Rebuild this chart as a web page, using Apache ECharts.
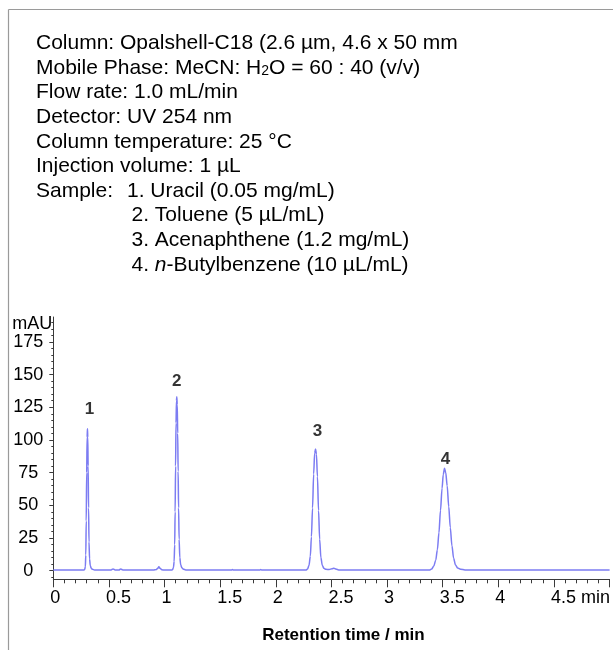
<!DOCTYPE html>
<html>
<head>
<meta charset="utf-8">
<script src="https://cdn.jsdelivr.net/npm/echarts@6/dist/echarts.min.js"></script>
<style>
html,body{margin:0;padding:0;background:#fff;}
#chart{width:613px;height:650px;}
</style>
</head>
<body>
<div id="chart"></div>
<script>
// ---- Data ----
const retentionTime = [
  0, 0.25, 0.275,
  0.282, 0.288, 0.292, 0.296, 0.300, 0.304, 0.307, 0.310, 0.313, 0.317, 0.321, 0.326, 0.332, 0.340, 0.352, 0.370,
  0.52, 0.537, 0.555, 0.59, 0.606, 0.625,
  0.90, 0.925, 0.938, 0.949, 0.960, 0.975, 1.0, 1.065,
  1.072, 1.080, 1.086, 1.091, 1.095, 1.099, 1.103, 1.107, 1.110, 1.114, 1.118, 1.122, 1.126, 1.131, 1.137, 1.145, 1.155, 1.170, 1.19, 1.22,
  1.60, 1.61, 1.62, 1.855, 1.865, 1.875,
  2.27,
  2.285, 2.298, 2.310, 2.320, 2.330, 2.340, 2.349, 2.357, 2.365, 2.374, 2.384, 2.394, 2.405, 2.418, 2.432, 2.450, 2.48, 2.505, 2.522, 2.54, 2.565, 2.6,
  3.38,
  3.40, 3.42, 3.437, 3.452, 3.466, 3.480, 3.494, 3.505, 3.516, 3.527, 3.540, 3.554, 3.568, 3.583, 3.598, 3.615, 3.635, 3.66, 3.70, 3.75,
  5.0
];
const signalMAU = [
  0.5, 0.5, 0.6,
  0.8, 3, 12, 38, 75, 102, 108.5, 102, 80, 48, 22, 9, 4, 2, 1, 0.6,
  0.6, 1.3, 0.6, 0.6, 1.2, 0.6,
  0.5, 0.8, 1.8, 3.0, 1.8, 0.7, 0.5, 0.5,
  0.8, 2.5, 7, 20, 45, 80, 113, 130, 133, 127, 105, 76, 48, 24, 10, 4.5, 2.2, 1.1, 0.6, 0.5,
  0.5, 0.9, 0.5, 0.5, 0.8, 0.5,
  0.5,
  1.2, 4, 11, 26, 48, 74, 90, 93, 89, 72, 46, 24, 10, 4, 1.8, 1.0, 0.9, 1.5, 1.9, 1.2, 0.6, 0.5,
  0.5,
  1.2, 3.5, 8, 16, 29, 46, 63, 73.5, 78.3, 75, 65, 49, 33, 19, 9.5, 4.3, 2, 1.1, 0.6, 0.5,
  0.5
];
const peakNames = ['1', '2', '3', '4'];
const peakApexTime = [0.307, 1.110, 2.357, 3.516];
const peakApexSignal = [108.5, 133, 93, 78.3];

const xTickLabels = ['0', '0.5', '1', '1.5', '2', '2.5', '3', '3.5', '4', '4.5 min'];
const yMajorTicks = [0, 25, 50, 75, 100, 125, 150, 175];
const yMinorTicks = [-5, 5, 10, 15, 20, 30, 35, 40, 45, 55, 60, 65, 70, 80, 85, 90, 95, 105, 110, 115, 120, 130, 135, 140, 145, 155, 160, 165, 170, 180, 185, 190];

const conditionLines = [
  'Column: Opalshell-C18 (2.6 µm, 4.6 x 50 mm',
  'Mobile Phase: MeCN: H{sub|2}O = 60 : 40 (v/v)',
  'Flow rate: 1.0 mL/min',
  'Detector: UV 254 nm',
  'Column temperature: 25 °C',
  'Injection volume: 1 µL',
  'Sample:'
];
const sampleLines = [
  '1. Uracil (0.05 mg/mL)',
  '2. Toluene (5 µL/mL)',
  '3. Acenaphthene (1.2 mg/mL)',
  '4. {it|n}-Butylbenzene (10 µL/mL)'
];

// ---- Build chart ----
const FF = '"Liberation Sans", Arial, Helvetica, sans-serif';
const AXIS_COLOR = '#3a3a3a';
const traceData = retentionTime.map((t, i) => [t, signalMAU[i]]);

const labelOffsets = [[2, -19], [0, -15], [2, -17.5], [1, -8.5]];
const peakData = peakApexTime.map((t, i) => ({
  value: [t, peakApexSignal[i]],
  label: { offset: labelOffsets[i] }
}));

const TEXT_X = 36, SAMPLE_X = 127, SUB_X = 131.5, LINE0 = 43.5, LH = 24.6, TFS = 21;
const richDefs = {
  sub: { fontSize: 14, fontFamily: FF, padding: [7, 0, 0, 0], fill: '#000', color: '#000' },
  it: { fontSize: TFS, fontFamily: FF, fontStyle: 'italic', fill: '#000', color: '#000' }
};
const graphics = [];
graphics.push({ type: 'line', silent: true, shape: { x1: 8.5, y1: 9.5, x2: 613, y2: 9.5 }, style: { stroke: '#9a9a9a', lineWidth: 1.2 } });
graphics.push({ type: 'line', silent: true, shape: { x1: 8.5, y1: 9.5, x2: 8.5, y2: 650 }, style: { stroke: '#9a9a9a', lineWidth: 1.2 } });
conditionLines.forEach((s, i) => {
  graphics.push({
    type: 'text', silent: true,
    style: { text: s, x: TEXT_X, y: LINE0 + i * LH, fontSize: TFS, fontFamily: FF, fill: '#000',
             textAlign: 'left', textVerticalAlign: 'middle', rich: richDefs }
  });
});
sampleLines.forEach((s, i) => {
  graphics.push({
    type: 'text', silent: true,
    style: { text: s, x: i === 0 ? SAMPLE_X : SUB_X, y: LINE0 + (6 + i) * LH, fontSize: TFS, fontFamily: FF, fill: '#000',
             textAlign: 'left', textVerticalAlign: 'middle', rich: richDefs }
  });
});

function xLabelFormatter(v) {
  const idx = Math.round(v / 0.5);
  if (idx < 0 || idx >= xTickLabels.length) return '';
  const s = xTickLabels[idx];
  if (s.length === 1) return '{n|' + s + '}';
  return '{g|' + s.slice(1) + '}{n|' + s + '}';
}

const chart = echarts.init(document.getElementById('chart'), null, { renderer: 'canvas' });
chart.setOption({
  animation: false,
  backgroundColor: '#fff',
  grid: { left: 53.3, right: 3, top: 317, bottom: 70.7, containLabel: false },
  xAxis: {
    type: 'value', min: 0, max: 5, interval: 0.5,
    axisLine: { show: true, onZero: false, lineStyle: { color: AXIS_COLOR, width: 1 } },
    axisTick: { show: true, inside: false, length: 8, lineStyle: { color: AXIS_COLOR, width: 1 } },
    minorTick: { show: true, splitNumber: 5, length: 4, lineStyle: { color: AXIS_COLOR, width: 1 } },
    splitLine: { show: false }, minorSplitLine: { show: false },
    axisLabel: {
      margin: 10, showMaxLabel: false, formatter: xLabelFormatter, padding: [0, 0, 0, 4],
      rich: {
        n: { fontSize: 18, fontFamily: FF, color: '#000' },
        g: { fontSize: 18, fontFamily: FF, color: 'rgba(0,0,0,0)' }
      }
    },
    name: 'Retention time / min', nameLocation: 'middle', nameGap: 48,
    nameTextStyle: { fontSize: 17, fontWeight: 'bold', fontFamily: FF, color: '#000', padding: [0, 0, 0, 24] }
  },
  yAxis: [{
    type: 'value', min: -6.6, max: 194,
    axisLine: { show: true, onZero: false, lineStyle: { color: AXIS_COLOR, width: 1 } },
    axisTick: { show: true, length: 4, customValues: yMajorTicks, lineStyle: { color: AXIS_COLOR, width: 1 } },
    axisLabel: { customValues: yMajorTicks, align: 'center', margin: 25, fontSize: 18, fontFamily: FF, color: '#000', padding: [6, 0, 0, 0] },
    splitLine: { show: false },
    name: 'mAU', nameLocation: 'end', nameGap: -7,
    nameTextStyle: { fontSize: 18, fontFamily: FF, color: '#000', align: 'right', verticalAlign: 'middle', padding: [0, 1, 0, 0] }
  }, {
    type: 'value', min: -6.6, max: 194, position: 'left',
    axisLine: { show: false },
    axisTick: { show: true, length: 2, customValues: yMinorTicks, lineStyle: { color: AXIS_COLOR, width: 1 } },
    axisLabel: { show: false },
    splitLine: { show: false }
  }],
  graphic: graphics,
  series: [{
    type: 'line', data: traceData, yAxisIndex: 0,
    showSymbol: false, symbol: 'none', smooth: 0.3, smoothMonotone: 'x',
    lineStyle: { color: '#7c7cf2', width: 1.5 }, z: 3
  }, {
    type: 'scatter', data: peakData, yAxisIndex: 0, symbolSize: 0, silent: true,
    label: {
      show: true, position: 'inside', fontSize: 17, fontWeight: 'bold', fontFamily: FF, color: '#000',
      formatter: p => peakNames[p.dataIndex]
    }, z: 4
  }]
});
</script>
</body>
</html>
